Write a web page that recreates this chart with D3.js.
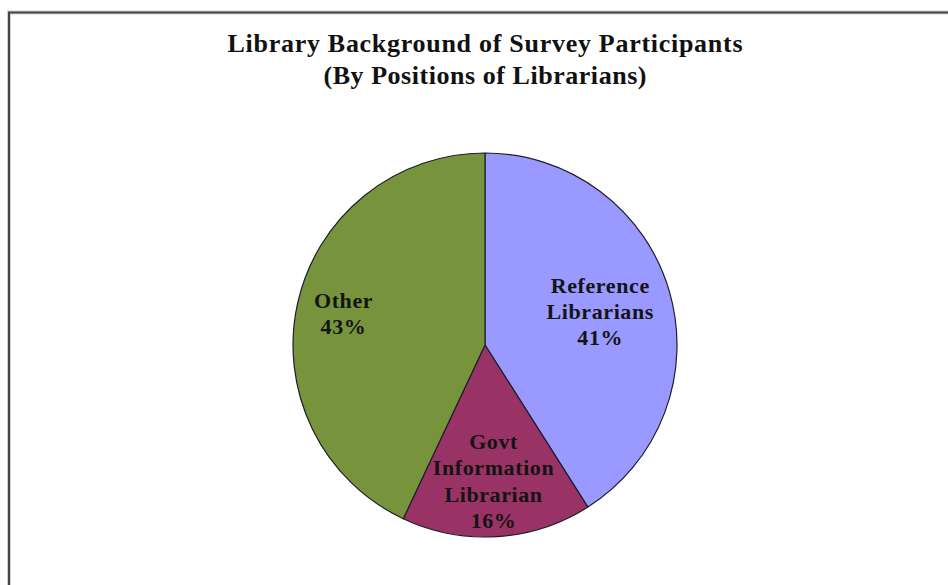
<!DOCTYPE html>
<html>
<head>
<meta charset="utf-8">
<script src="https://cdn.jsdelivr.net/npm/d3@7"></script>
<style>
  html, body { margin: 0; padding: 0; background: #ffffff; }
  svg { display: block; }
</style>
</head>
<body>
<div id="chart"></div>
<script>
// Survey participants by library position (percent of respondents)
const categories = ["Reference Librarians", "Govt Information Librarian", "Other"];
const labelLines = [["Reference", "Librarians"], ["Govt", "Information", "Librarian"], ["Other"]];
const percents = [41, 16, 43];
const sliceColors = ["#9999FF", "#993366", "#77933C"];
const titleLines = ["Library Background of Survey Participants", "(By Positions of Librarians)"];

const width = 948, height = 585;
const cx = 485, cy = 345, radius = 192;

const svg = d3.select("#chart").append("svg")
  .attr("width", width)
  .attr("height", height);

// chart area frame (top and left edges visible)
svg.append("path")
  .attr("d", `M9,${height} L9,12.5 L${width},12.5`)
  .attr("fill", "none")
  .attr("stroke", "#cfcfcf")
  .attr("stroke-width", 4);
svg.append("path")
  .attr("d", `M9,${height} L9,12.5 L${width},12.5`)
  .attr("fill", "none")
  .attr("stroke", "#444444")
  .attr("stroke-width", 2);

// title
const titleFont = "'Liberation Serif', 'Times New Roman', serif";
const titleY = [52, 84];
const titleLen = [515, 323];
svg.selectAll("text.title")
  .data(titleLines)
  .join("text")
  .attr("class", "title")
  .attr("x", cx)
  .attr("y", (d, i) => titleY[i])
  .attr("text-anchor", "middle")
  .attr("textLength", (d, i) => titleLen[i])
  .attr("lengthAdjust", "spacing")
  .style("font-family", titleFont)
  .style("font-weight", "bold")
  .style("font-size", "26px")
  .style("fill", "#111111")
  .text(d => d);

// pie, starting at 12 o'clock and running clockwise
const pie = d3.pie().sort(null).value(d => d.value);
const data = pie(categories.map((c, i) => ({ name: c, value: percents[i], idx: i })));
const arc = d3.arc().innerRadius(0).outerRadius(radius);

const g = svg.append("g").attr("transform", `translate(${cx},${cy})`);

g.selectAll("path.slice")
  .data(data)
  .join("path")
  .attr("class", "slice")
  .attr("d", arc)
  .attr("fill", d => sliceColors[d.data.idx])
  .attr("stroke", "#1e1e2a")
  .attr("stroke-width", 1.2)
  .attr("stroke-linejoin", "round");

// data labels: category name lines followed by the percentage
const labelDepth = [0.625, 0.71, 0.755];
const lineH = 26.3;
const labels = g.selectAll("g.label")
  .data(data)
  .join("g")
  .attr("class", "label")
  .attr("transform", d => {
    const a = (d.startAngle + d.endAngle) / 2;
    const r = radius * labelDepth[d.data.idx];
    return `translate(${Math.sin(a) * r},${-Math.cos(a) * r})`;
  });

labels.each(function(d) {
  const lines = labelLines[d.data.idx].concat([d.data.value + "%"]);
  const n = lines.length;
  const capH = 15;
  const blockH = capH + (n - 1) * lineH;
  const firstBase = -blockH / 2 + capH;
  d3.select(this).selectAll("text")
    .data(lines)
    .join("text")
    .attr("x", 0)
    .attr("y", (t, i) => firstBase + i * lineH)
    .attr("text-anchor", "middle")
    .style("font-family", titleFont)
    .style("font-weight", "bold")
    .style("font-size", "22px")
    .style("letter-spacing", "0.6px")
    .style("fill", "#141414")
    .text(t => t);
});
</script>
</body>
</html>
